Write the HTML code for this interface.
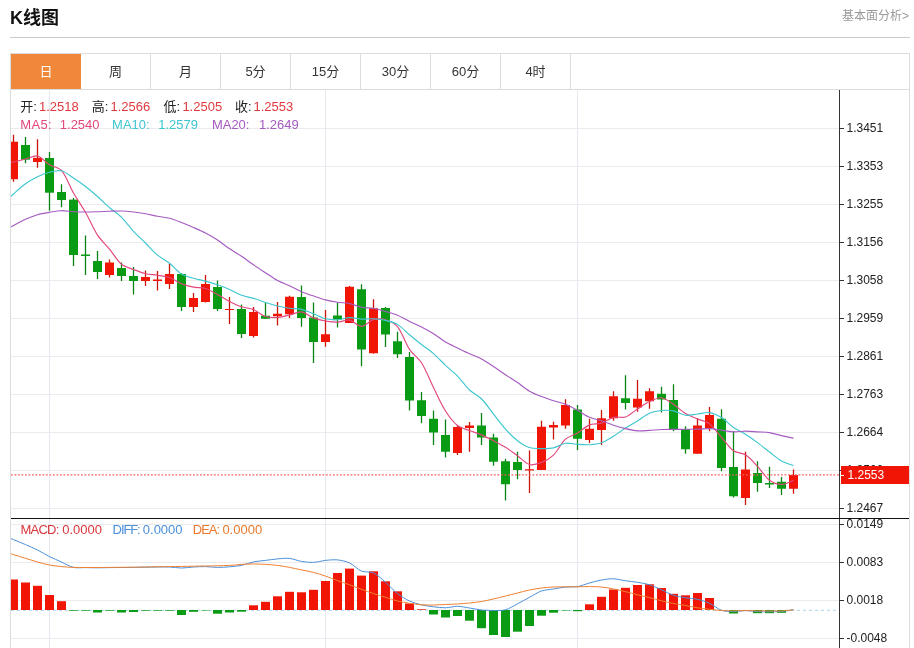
<!DOCTYPE html>
<html lang="zh-CN"><head><meta charset="utf-8"><title>K线图</title>
<style>
html,body{margin:0;padding:0;background:#fff}
body{width:914px;height:648px;position:relative;overflow:hidden;font-family:"Liberation Sans","Noto Sans CJK SC",sans-serif;color:#222}
.t{position:absolute;white-space:nowrap;line-height:1}
#title{left:10px;top:8.5px;font-size:18px;font-weight:bold;color:#111}
#more{right:5px;top:10px;font-size:12px;color:#999}
#hr{position:absolute;left:10px;top:37px;width:900px;height:1px;background:#ccc}
#tabs{position:absolute;left:10px;top:53px;width:898px;height:35px;border:1px solid #dcdcdc;box-sizing:content-box}
#tabs div{position:absolute;top:0;height:35px;width:70px;box-sizing:border-box;border-right:1px solid #dcdcdc;text-align:center;line-height:35px;font-size:13px;color:#333}
#tabs div.on{background:#f0883c;color:#fff;border-right:none}
.i{font-size:13px}
.k{color:#222}.r{color:#e0393e}.m5{color:#e2477d}.m10{color:#3dc6cf}.m20{color:#a55bc0}
.md{color:#d9363b}.df{color:#4a90d9}.de{color:#e8792b}
</style></head><body>
<div id="title" class="t">K线图</div>
<div id="more" class="t">基本面分析&gt;</div>
<div id="hr"></div>
<div id="tabs">
<div class="on" style="left:0">日</div><div style="left:70px">周</div><div style="left:140px">月</div><div style="left:210px">5分</div><div style="left:280px">15分</div><div style="left:350px">30分</div><div style="left:420px">60分</div><div style="left:490px">4时</div>
</div>
<svg width="914" height="648" viewBox="0 0 914 648" style="position:absolute;left:0;top:0">
<defs><clipPath id="cp"><rect x="11" y="90" width="828.5" height="558"/></clipPath></defs>
<g stroke="#ebebed" stroke-width="1" shape-rendering="crispEdges">
<line x1="11" x2="839" y1="128.5" y2="128.5"/>
<line x1="11" x2="839" y1="166.5" y2="166.5"/>
<line x1="11" x2="839" y1="204.5" y2="204.5"/>
<line x1="11" x2="839" y1="242.5" y2="242.5"/>
<line x1="11" x2="839" y1="280.5" y2="280.5"/>
<line x1="11" x2="839" y1="318.5" y2="318.5"/>
<line x1="11" x2="839" y1="356.5" y2="356.5"/>
<line x1="11" x2="839" y1="394.5" y2="394.5"/>
<line x1="11" x2="839" y1="432.5" y2="432.5"/>
<line x1="11" x2="839" y1="470.5" y2="470.5"/>
<line x1="11" x2="839" y1="508.5" y2="508.5"/>
<line x1="11" x2="839" y1="524.5" y2="524.5"/>
<line x1="11" x2="839" y1="562.5" y2="562.5"/>
<line x1="11" x2="839" y1="600.5" y2="600.5"/>
<line x1="11" x2="839" y1="638.5" y2="638.5"/>
</g>
<g stroke="#e6e9f0" stroke-width="1" shape-rendering="crispEdges">
<line x1="49.5" x2="49.5" y1="90" y2="648"/>
<line x1="325.5" x2="325.5" y1="90" y2="648"/>
<line x1="577.5" x2="577.5" y1="90" y2="648"/>
</g>
<g stroke="#dcdcdc" stroke-width="1" shape-rendering="crispEdges" fill="none">
<line x1="10.5" x2="10.5" y1="54" y2="648"/><line x1="909.5" x2="909.5" y1="54" y2="648"/>
</g>
<line x1="11" x2="836" y1="610.3" y2="610.3" stroke="#b8dcea" stroke-width="1.2" stroke-dasharray="3 3"/>
<g clip-path="url(#cp)">
<line x1="13.5" x2="13.5" y1="134.70" y2="181.70" stroke="#c8140a" stroke-width="1.3"/>
<rect x="9.0" y="141.70" width="9" height="37.50" fill="#f01505"/>
<line x1="25.5" x2="25.5" y1="137.00" y2="163.30" stroke="#0a8414" stroke-width="1.3"/>
<rect x="21.0" y="145.00" width="9" height="14.70" fill="#0a9b14"/>
<line x1="37.5" x2="37.5" y1="139.20" y2="167.80" stroke="#c8140a" stroke-width="1.3"/>
<rect x="33.0" y="157.80" width="9" height="4.20" fill="#f01505"/>
<line x1="49.5" x2="49.5" y1="152.00" y2="210.70" stroke="#0a8414" stroke-width="1.3"/>
<rect x="45.0" y="158.00" width="9" height="34.70" fill="#0a9b14"/>
<line x1="61.5" x2="61.5" y1="184.30" y2="207.30" stroke="#0a8414" stroke-width="1.3"/>
<rect x="57.0" y="192.00" width="9" height="8.00" fill="#0a9b14"/>
<line x1="73.5" x2="73.5" y1="198.00" y2="266.00" stroke="#0a8414" stroke-width="1.3"/>
<rect x="69.0" y="199.60" width="9" height="55.40" fill="#0a9b14"/>
<line x1="85.5" x2="85.5" y1="235.50" y2="275.00" stroke="#0a8414" stroke-width="1.3"/>
<rect x="81.0" y="254.50" width="9" height="1.50" fill="#0a9b14"/>
<line x1="97.5" x2="97.5" y1="251.00" y2="279.00" stroke="#0a8414" stroke-width="1.3"/>
<rect x="93.0" y="261.00" width="9" height="11.00" fill="#0a9b14"/>
<line x1="109.5" x2="109.5" y1="259.50" y2="277.50" stroke="#c8140a" stroke-width="1.3"/>
<rect x="105.0" y="262.50" width="9" height="12.50" fill="#f01505"/>
<line x1="121.5" x2="121.5" y1="262.50" y2="281.00" stroke="#0a8414" stroke-width="1.3"/>
<rect x="117.0" y="268.00" width="9" height="8.00" fill="#0a9b14"/>
<line x1="133.5" x2="133.5" y1="267.00" y2="294.50" stroke="#0a8414" stroke-width="1.3"/>
<rect x="129.0" y="276.00" width="9" height="5.00" fill="#0a9b14"/>
<line x1="145.5" x2="145.5" y1="270.50" y2="286.00" stroke="#c8140a" stroke-width="1.3"/>
<rect x="141.0" y="277.00" width="9" height="4.00" fill="#f01505"/>
<line x1="157.5" x2="157.5" y1="271.00" y2="290.50" stroke="#c8140a" stroke-width="1.3"/>
<rect x="153.0" y="279.50" width="9" height="1.50" fill="#f01505"/>
<line x1="169.5" x2="169.5" y1="264.00" y2="289.00" stroke="#c8140a" stroke-width="1.3"/>
<rect x="165.0" y="274.00" width="9" height="10.00" fill="#f01505"/>
<line x1="181.5" x2="181.5" y1="273.00" y2="311.00" stroke="#0a8414" stroke-width="1.3"/>
<rect x="177.0" y="274.00" width="9" height="33.00" fill="#0a9b14"/>
<line x1="193.5" x2="193.5" y1="293.00" y2="312.00" stroke="#c8140a" stroke-width="1.3"/>
<rect x="189.0" y="298.00" width="9" height="9.00" fill="#f01505"/>
<line x1="205.5" x2="205.5" y1="275.00" y2="302.50" stroke="#c8140a" stroke-width="1.3"/>
<rect x="201.0" y="284.00" width="9" height="18.00" fill="#f01505"/>
<line x1="217.5" x2="217.5" y1="280.50" y2="311.00" stroke="#0a8414" stroke-width="1.3"/>
<rect x="213.0" y="287.00" width="9" height="22.00" fill="#0a9b14"/>
<line x1="229.5" x2="229.5" y1="297.00" y2="324.00" stroke="#c8140a" stroke-width="1.3"/>
<rect x="225.0" y="309.00" width="9" height="1.00" fill="#f01505"/>
<line x1="241.5" x2="241.5" y1="304.50" y2="338.00" stroke="#0a8414" stroke-width="1.3"/>
<rect x="237.0" y="309.00" width="9" height="25.00" fill="#0a9b14"/>
<line x1="253.5" x2="253.5" y1="307.00" y2="337.50" stroke="#c8140a" stroke-width="1.3"/>
<rect x="249.0" y="312.00" width="9" height="24.00" fill="#f01505"/>
<line x1="265.5" x2="265.5" y1="302.50" y2="319.00" stroke="#0a8414" stroke-width="1.3"/>
<rect x="261.0" y="315.75" width="9" height="3.00" fill="#0a9b14"/>
<line x1="277.5" x2="277.5" y1="302.00" y2="325.50" stroke="#c8140a" stroke-width="1.3"/>
<rect x="273.0" y="313.75" width="9" height="2.50" fill="#f01505"/>
<line x1="289.5" x2="289.5" y1="295.75" y2="318.00" stroke="#c8140a" stroke-width="1.3"/>
<rect x="285.0" y="296.75" width="9" height="17.50" fill="#f01505"/>
<line x1="301.5" x2="301.5" y1="285.50" y2="326.75" stroke="#0a8414" stroke-width="1.3"/>
<rect x="297.0" y="297.00" width="9" height="21.00" fill="#0a9b14"/>
<line x1="313.5" x2="313.5" y1="302.50" y2="363.00" stroke="#0a8414" stroke-width="1.3"/>
<rect x="309.0" y="317.50" width="9" height="24.50" fill="#0a9b14"/>
<line x1="325.5" x2="325.5" y1="310.00" y2="346.75" stroke="#c8140a" stroke-width="1.3"/>
<rect x="321.0" y="334.25" width="9" height="7.75" fill="#f01505"/>
<line x1="337.5" x2="337.5" y1="302.50" y2="327.50" stroke="#0a8414" stroke-width="1.3"/>
<rect x="333.0" y="315.50" width="9" height="4.00" fill="#0a9b14"/>
<line x1="349.5" x2="349.5" y1="286.00" y2="323.00" stroke="#c8140a" stroke-width="1.3"/>
<rect x="345.0" y="286.75" width="9" height="36.25" fill="#f01505"/>
<line x1="361.5" x2="361.5" y1="284.25" y2="366.25" stroke="#0a8414" stroke-width="1.3"/>
<rect x="357.0" y="289.25" width="9" height="60.25" fill="#0a9b14"/>
<line x1="373.5" x2="373.5" y1="299.25" y2="353.75" stroke="#c8140a" stroke-width="1.3"/>
<rect x="369.0" y="308.25" width="9" height="45.00" fill="#f01505"/>
<line x1="385.5" x2="385.5" y1="307.00" y2="347.00" stroke="#0a8414" stroke-width="1.3"/>
<rect x="381.0" y="308.00" width="9" height="26.50" fill="#0a9b14"/>
<line x1="397.5" x2="397.5" y1="331.75" y2="358.00" stroke="#0a8414" stroke-width="1.3"/>
<rect x="393.0" y="341.25" width="9" height="13.00" fill="#0a9b14"/>
<line x1="409.5" x2="409.5" y1="352.00" y2="410.50" stroke="#0a8414" stroke-width="1.3"/>
<rect x="405.0" y="357.00" width="9" height="43.50" fill="#0a9b14"/>
<line x1="421.5" x2="421.5" y1="392.00" y2="423.25" stroke="#0a8414" stroke-width="1.3"/>
<rect x="417.0" y="400.25" width="9" height="15.75" fill="#0a9b14"/>
<line x1="433.5" x2="433.5" y1="410.50" y2="445.00" stroke="#0a8414" stroke-width="1.3"/>
<rect x="429.0" y="418.75" width="9" height="13.75" fill="#0a9b14"/>
<line x1="445.5" x2="445.5" y1="419.50" y2="457.50" stroke="#0a8414" stroke-width="1.3"/>
<rect x="441.0" y="435.00" width="9" height="16.75" fill="#0a9b14"/>
<line x1="457.5" x2="457.5" y1="425.00" y2="455.00" stroke="#c8140a" stroke-width="1.3"/>
<rect x="453.0" y="427.00" width="9" height="26.00" fill="#f01505"/>
<line x1="469.5" x2="469.5" y1="422.00" y2="451.75" stroke="#c8140a" stroke-width="1.3"/>
<rect x="465.0" y="425.50" width="9" height="2.50" fill="#f01505"/>
<line x1="481.5" x2="481.5" y1="413.00" y2="445.00" stroke="#0a8414" stroke-width="1.3"/>
<rect x="477.0" y="425.50" width="9" height="12.00" fill="#0a9b14"/>
<line x1="493.5" x2="493.5" y1="433.75" y2="465.75" stroke="#0a8414" stroke-width="1.3"/>
<rect x="489.0" y="437.50" width="9" height="24.25" fill="#0a9b14"/>
<line x1="505.5" x2="505.5" y1="458.75" y2="500.50" stroke="#0a8414" stroke-width="1.3"/>
<rect x="501.0" y="461.25" width="9" height="23.00" fill="#0a9b14"/>
<line x1="517.5" x2="517.5" y1="451.75" y2="479.25" stroke="#0a8414" stroke-width="1.3"/>
<rect x="513.0" y="462.00" width="9" height="8.00" fill="#0a9b14"/>
<line x1="529.5" x2="529.5" y1="450.50" y2="493.00" stroke="#c8140a" stroke-width="1.3"/>
<rect x="525.0" y="469.25" width="9" height="1.25" fill="#f01505"/>
<line x1="541.5" x2="541.5" y1="420.75" y2="470.00" stroke="#c8140a" stroke-width="1.3"/>
<rect x="537.0" y="426.75" width="9" height="43.25" fill="#f01505"/>
<line x1="553.5" x2="553.5" y1="421.75" y2="439.50" stroke="#c8140a" stroke-width="1.3"/>
<rect x="549.0" y="425.00" width="9" height="2.50" fill="#f01505"/>
<line x1="565.5" x2="565.5" y1="399.25" y2="428.75" stroke="#c8140a" stroke-width="1.3"/>
<rect x="561.0" y="405.00" width="9" height="20.50" fill="#f01505"/>
<line x1="577.5" x2="577.5" y1="405.00" y2="450.00" stroke="#0a8414" stroke-width="1.3"/>
<rect x="573.0" y="409.50" width="9" height="29.25" fill="#0a9b14"/>
<line x1="589.5" x2="589.5" y1="418.75" y2="443.00" stroke="#c8140a" stroke-width="1.3"/>
<rect x="585.0" y="428.75" width="9" height="11.25" fill="#f01505"/>
<line x1="601.5" x2="601.5" y1="410.00" y2="445.00" stroke="#c8140a" stroke-width="1.3"/>
<rect x="597.0" y="418.25" width="9" height="11.75" fill="#f01505"/>
<line x1="613.5" x2="613.5" y1="391.25" y2="420.75" stroke="#c8140a" stroke-width="1.3"/>
<rect x="609.0" y="396.25" width="9" height="22.00" fill="#f01505"/>
<line x1="625.5" x2="625.5" y1="375.25" y2="409.50" stroke="#0a8414" stroke-width="1.3"/>
<rect x="621.0" y="398.25" width="9" height="4.75" fill="#0a9b14"/>
<line x1="637.5" x2="637.5" y1="380.00" y2="411.75" stroke="#c8140a" stroke-width="1.3"/>
<rect x="633.0" y="398.75" width="9" height="8.75" fill="#f01505"/>
<line x1="649.5" x2="649.5" y1="388.25" y2="408.75" stroke="#c8140a" stroke-width="1.3"/>
<rect x="645.0" y="391.25" width="9" height="10.00" fill="#f01505"/>
<line x1="661.5" x2="661.5" y1="386.75" y2="412.50" stroke="#0a8414" stroke-width="1.3"/>
<rect x="657.0" y="393.75" width="9" height="5.75" fill="#0a9b14"/>
<line x1="673.5" x2="673.5" y1="384.25" y2="431.25" stroke="#0a8414" stroke-width="1.3"/>
<rect x="669.0" y="400.00" width="9" height="29.25" fill="#0a9b14"/>
<line x1="685.5" x2="685.5" y1="426.25" y2="453.75" stroke="#0a8414" stroke-width="1.3"/>
<rect x="681.0" y="429.25" width="9" height="20.00" fill="#0a9b14"/>
<line x1="697.5" x2="697.5" y1="418.25" y2="453.75" stroke="#c8140a" stroke-width="1.3"/>
<rect x="693.0" y="425.50" width="9" height="28.25" fill="#f01505"/>
<line x1="709.5" x2="709.5" y1="407.00" y2="431.25" stroke="#c8140a" stroke-width="1.3"/>
<rect x="705.0" y="415.00" width="9" height="13.25" fill="#f01505"/>
<line x1="721.5" x2="721.5" y1="409.25" y2="471.25" stroke="#0a8414" stroke-width="1.3"/>
<rect x="717.0" y="418.75" width="9" height="49.25" fill="#0a9b14"/>
<line x1="733.5" x2="733.5" y1="431.25" y2="497.50" stroke="#0a8414" stroke-width="1.3"/>
<rect x="729.0" y="467.00" width="9" height="29.25" fill="#0a9b14"/>
<line x1="745.5" x2="745.5" y1="451.75" y2="505.00" stroke="#c8140a" stroke-width="1.3"/>
<rect x="741.0" y="469.50" width="9" height="28.50" fill="#f01505"/>
<line x1="757.5" x2="757.5" y1="461.25" y2="491.75" stroke="#0a8414" stroke-width="1.3"/>
<rect x="753.0" y="473.00" width="9" height="10.00" fill="#0a9b14"/>
<line x1="769.5" x2="769.5" y1="466.75" y2="488.00" stroke="#0a8414" stroke-width="1.3"/>
<rect x="765.0" y="483.00" width="9" height="1.50" fill="#0a9b14"/>
<line x1="781.5" x2="781.5" y1="477.00" y2="495.00" stroke="#0a8414" stroke-width="1.3"/>
<rect x="777.0" y="481.75" width="9" height="7.00" fill="#0a9b14"/>
<line x1="793.5" x2="793.5" y1="469.50" y2="493.75" stroke="#c8140a" stroke-width="1.3"/>
<rect x="789.0" y="475.00" width="9" height="13.75" fill="#f01505"/>
<path d="M1.50 163.00 C1.50 163.00 9.95 162.59 13.50 162.00 C17.15 161.39 21.90 159.90 25.50 159.00 C29.10 158.10 34.22 155.22 37.50 156.00 C41.42 156.93 45.70 162.42 49.50 164.70 C52.90 166.74 59.04 167.48 61.50 170.38 C66.24 175.98 69.68 186.37 73.50 193.04 C76.88 198.94 82.13 206.39 85.50 212.30 C89.33 219.02 93.30 228.70 97.50 235.14 C100.50 239.74 105.99 244.84 109.50 249.10 C113.19 253.58 117.20 260.65 121.50 264.30 C124.40 266.77 129.85 268.07 133.50 269.50 C137.05 270.89 141.81 272.82 145.50 273.70 C149.01 274.53 153.92 274.63 157.50 275.20 C161.12 275.77 166.08 276.29 169.50 277.50 C173.28 278.84 177.76 282.20 181.50 283.70 C184.96 285.08 189.84 286.37 193.50 287.10 C197.04 287.81 202.08 287.46 205.50 288.50 C209.28 289.65 213.97 292.50 217.50 294.40 C221.17 296.37 225.80 299.49 229.50 301.40 C233.00 303.21 237.78 305.53 241.50 306.80 C244.98 307.99 250.11 308.22 253.50 309.60 C257.31 311.15 261.65 315.28 265.50 316.55 C268.85 317.65 273.93 317.72 277.50 317.50 C281.13 317.27 285.93 315.89 289.50 315.05 C293.13 314.20 298.04 311.45 301.50 311.85 C305.24 312.29 309.76 316.43 313.50 317.85 C316.96 319.16 321.85 320.30 325.50 320.95 C329.05 321.58 333.92 322.23 337.50 322.10 C341.12 321.97 346.09 319.49 349.50 320.10 C353.29 320.78 357.93 326.47 361.50 326.40 C365.13 326.33 369.65 320.72 373.50 319.65 C376.85 318.71 382.16 318.73 385.50 319.70 C389.36 320.83 394.98 323.53 397.50 326.65 C402.18 332.44 405.26 343.02 409.50 349.40 C412.46 353.84 418.67 358.19 421.50 362.70 C425.87 369.64 429.82 380.14 433.50 387.55 C437.02 394.63 441.30 404.36 445.50 411.00 C448.50 415.76 453.24 422.08 457.50 425.55 C460.44 427.94 465.86 429.14 469.50 430.55 C473.06 431.93 477.98 433.36 481.50 434.85 C485.18 436.41 489.94 438.87 493.50 440.70 C497.14 442.57 502.04 445.02 505.50 447.20 C509.24 449.55 513.91 453.21 517.50 455.80 C521.11 458.41 525.55 463.46 529.50 464.55 C532.75 465.44 538.16 463.72 541.50 462.40 C545.36 460.87 550.52 457.93 553.50 455.05 C557.72 450.97 561.22 443.15 565.50 439.20 C568.42 436.52 574.02 435.03 577.50 432.95 C581.22 430.72 585.58 426.45 589.50 424.85 C592.78 423.51 598.07 424.22 601.50 423.15 C605.27 421.98 609.72 418.37 613.50 417.40 C616.92 416.52 622.23 418.14 625.50 417.00 C629.43 415.62 633.87 411.35 637.50 409.00 C641.07 406.70 645.69 403.29 649.50 401.50 C652.89 399.91 658.05 397.34 661.50 397.75 C665.25 398.20 670.08 402.09 673.50 404.35 C677.28 406.85 681.64 411.25 685.50 413.60 C688.84 415.63 693.87 417.42 697.50 418.95 C701.07 420.45 706.51 421.40 709.50 423.70 C713.71 426.94 717.88 433.31 721.50 437.40 C725.08 441.44 729.27 447.73 733.50 450.80 C736.47 452.96 742.39 452.83 745.50 454.85 C749.59 457.50 754.08 462.73 757.50 466.35 C761.28 470.35 765.24 477.05 769.50 480.25 C772.44 482.46 777.90 484.41 781.50 484.40 C785.10 484.38 793.50 480.15 793.50 480.15" fill="none" stroke="#e2477d" stroke-width="1.15"/>
<path d="M1.50 205.00 C1.50 205.00 9.85 197.24 13.50 194.00 C17.05 190.85 21.67 186.46 25.50 183.70 C28.87 181.27 33.75 178.49 37.50 176.70 C40.95 175.04 45.79 173.11 49.50 172.20 C52.99 171.34 58.16 169.99 61.50 170.80 C65.36 171.73 69.99 175.70 73.50 178.00 C77.19 180.41 82.01 183.81 85.50 186.50 C89.21 189.36 93.98 193.41 97.50 196.50 C101.18 199.74 105.80 204.39 109.50 207.60 C113.00 210.64 118.21 214.10 121.50 217.34 C125.41 221.20 129.74 227.25 133.50 231.27 C136.94 234.94 141.93 239.45 145.50 243.00 C149.13 246.62 153.60 251.87 157.50 255.17 C160.80 257.96 166.09 260.62 169.50 263.30 C173.29 266.27 177.48 271.49 181.50 274.00 C184.68 275.99 189.84 277.22 193.50 278.30 C197.04 279.35 201.93 280.13 205.50 281.10 C209.13 282.08 213.94 283.56 217.50 284.80 C221.14 286.07 225.96 287.91 229.50 289.45 C233.16 291.04 237.77 293.87 241.50 295.25 C244.97 296.54 249.94 297.27 253.50 298.35 C257.14 299.45 261.87 301.37 265.50 302.52 C269.07 303.65 273.86 305.09 277.50 305.95 C281.06 306.80 285.88 307.72 289.50 308.23 C293.08 308.73 298.01 308.52 301.50 309.32 C305.21 310.17 309.93 312.32 313.50 313.73 C317.13 315.15 321.76 317.80 325.50 318.75 C328.96 319.63 333.92 319.98 337.50 319.80 C341.12 319.62 345.88 317.68 349.50 317.57 C353.08 317.47 357.89 318.95 361.50 319.12 C365.09 319.30 369.91 318.57 373.50 318.75 C377.11 318.93 381.98 319.50 385.50 320.32 C389.18 321.19 394.30 322.45 397.50 324.38 C401.50 326.78 405.86 331.69 409.50 334.75 C413.06 337.74 417.85 341.68 421.50 344.55 C425.05 347.33 430.10 350.65 433.50 353.60 C437.30 356.89 441.83 361.90 445.50 365.35 C449.03 368.65 454.13 372.65 457.50 376.10 C461.33 380.03 465.52 386.22 469.50 389.98 C472.72 393.02 478.38 395.64 481.50 398.77 C485.58 402.88 489.87 409.54 493.50 414.12 C497.07 418.64 501.65 424.84 505.50 429.10 C508.85 432.80 513.56 437.65 517.50 440.68 C520.76 443.18 525.65 446.28 529.50 447.55 C532.85 448.66 537.90 448.58 541.50 448.62 C545.10 448.67 550.02 448.66 553.50 447.88 C557.22 447.03 561.78 443.74 565.50 443.20 C568.98 442.69 573.89 444.15 577.50 444.38 C581.09 444.60 585.92 444.94 589.50 444.70 C593.12 444.46 598.11 443.97 601.50 442.77 C605.31 441.43 610.00 438.36 613.50 436.23 C617.20 433.96 621.83 430.43 625.50 428.10 C629.03 425.86 633.95 423.19 637.50 420.98 C641.15 418.71 645.63 414.87 649.50 413.18 C652.83 411.72 657.86 410.80 661.50 410.45 C665.06 410.11 670.01 410.17 673.50 410.88 C677.21 411.63 681.80 414.82 685.50 415.30 C689.00 415.75 693.90 414.38 697.50 413.98 C701.10 413.57 706.03 412.08 709.50 412.60 C713.23 413.16 718.23 415.54 721.50 417.57 C725.43 420.03 729.67 424.92 733.50 427.57 C736.87 429.91 742.02 432.04 745.50 434.23 C749.22 436.56 753.96 440.04 757.50 442.65 C761.16 445.36 765.87 449.22 769.50 451.98 C773.07 454.69 777.63 458.72 781.50 460.90 C784.83 462.77 793.50 465.48 793.50 465.48" fill="none" stroke="#3dc6cf" stroke-width="1.15"/>
<path d="M1.50 232.00 C1.50 232.00 9.89 227.43 13.50 225.50 C17.09 223.59 21.80 220.87 25.50 219.20 C29.00 217.63 33.82 215.76 37.50 214.70 C41.02 213.69 45.88 212.90 49.50 212.30 C53.08 211.70 57.89 210.79 61.50 210.70 C65.09 210.61 69.89 211.50 73.50 211.70 C77.09 211.89 81.90 212.00 85.50 212.00 C89.10 212.00 93.90 211.82 97.50 211.70 C101.10 211.58 105.90 211.31 109.50 211.20 C113.10 211.10 117.91 210.88 121.50 211.00 C125.11 211.12 129.91 211.59 133.50 212.00 C137.11 212.41 141.92 213.12 145.50 213.75 C149.12 214.39 153.89 215.57 157.50 216.25 C161.09 216.92 165.98 217.33 169.50 218.25 C173.18 219.21 177.94 221.13 181.50 222.50 C185.14 223.90 189.93 225.94 193.50 227.50 C197.13 229.09 201.99 231.17 205.50 233.00 C209.19 234.92 214.02 237.72 217.50 240.00 C221.22 242.44 225.82 246.25 229.50 248.75 C233.02 251.14 237.97 253.93 241.50 256.29 C245.17 258.75 249.86 262.31 253.50 264.81 C257.06 267.25 261.89 270.39 265.50 272.76 C269.09 275.12 273.74 278.52 277.50 280.56 C280.94 282.42 285.94 284.12 289.50 285.76 C293.14 287.45 297.82 290.09 301.50 291.66 C305.02 293.16 309.88 294.77 313.50 296.01 C317.08 297.24 321.84 298.97 325.50 299.93 C329.04 300.85 333.87 301.76 337.50 302.30 C341.07 302.83 345.97 302.79 349.50 303.51 C353.17 304.26 357.83 306.42 361.50 307.19 C365.03 307.93 369.94 307.92 373.50 308.55 C377.14 309.19 381.93 310.44 385.50 311.43 C389.13 312.43 394.04 313.71 397.50 315.16 C401.24 316.73 405.85 319.70 409.50 321.49 C413.05 323.23 417.98 325.15 421.50 326.94 C425.18 328.80 430.01 331.47 433.50 333.66 C437.21 336.00 441.74 339.81 445.50 342.05 C448.94 344.10 453.90 346.19 457.50 347.95 C461.10 349.71 465.86 352.11 469.50 353.77 C473.06 355.41 478.04 357.13 481.50 358.95 C485.24 360.92 489.95 364.11 493.50 366.44 C497.15 368.84 501.87 372.28 505.50 374.71 C509.07 377.10 513.96 380.10 517.50 382.52 C521.16 385.03 525.69 388.92 529.50 391.15 C532.89 393.14 537.83 395.12 541.50 396.59 C545.03 398.00 549.87 399.58 553.50 400.74 C557.07 401.88 562.02 402.90 565.50 404.27 C569.22 405.75 573.97 408.32 577.50 410.24 C581.17 412.24 585.70 415.67 589.50 417.34 C592.90 418.83 597.94 419.61 601.50 420.77 C605.14 421.96 609.86 423.99 613.50 425.18 C617.06 426.33 621.86 427.74 625.50 428.60 C629.06 429.44 633.87 430.56 637.50 430.82 C641.07 431.09 645.90 430.56 649.50 430.36 C653.10 430.17 657.90 429.69 661.50 429.54 C665.10 429.39 669.90 429.42 673.50 429.38 C677.10 429.33 681.90 429.28 685.50 429.25 C689.10 429.22 693.90 429.26 697.50 429.18 C701.10 429.08 705.91 428.50 709.50 428.65 C713.11 428.80 717.90 429.69 721.50 430.18 C725.10 430.66 729.88 431.75 733.50 431.90 C737.08 432.05 741.90 431.18 745.50 431.16 C749.10 431.15 753.90 431.60 757.50 431.81 C761.10 432.02 765.95 432.00 769.50 432.57 C773.15 433.16 777.88 434.83 781.50 435.68 C785.08 436.51 793.50 438.18 793.50 438.18" fill="none" stroke="#a55bc0" stroke-width="1.15"/>
<rect x="9.0" y="579.50" width="9" height="30.50" fill="#f01505"/>
<rect x="21.0" y="582.50" width="9" height="27.50" fill="#f01505"/>
<rect x="33.0" y="585.80" width="9" height="24.20" fill="#f01505"/>
<rect x="45.0" y="595.00" width="9" height="15.00" fill="#f01505"/>
<rect x="57.0" y="601.20" width="9" height="8.80" fill="#f01505"/>
<rect x="69.0" y="610.00" width="9" height="0.70" fill="#0a9b14"/>
<rect x="81.0" y="610.00" width="9" height="0.70" fill="#0a9b14"/>
<rect x="93.0" y="610.00" width="9" height="2.50" fill="#0a9b14"/>
<rect x="105.0" y="610.00" width="9" height="0.70" fill="#0a9b14"/>
<rect x="117.0" y="610.00" width="9" height="2.50" fill="#0a9b14"/>
<rect x="129.0" y="610.00" width="9" height="2.00" fill="#0a9b14"/>
<rect x="141.0" y="610.00" width="9" height="0.70" fill="#0a9b14"/>
<rect x="153.0" y="610.00" width="9" height="0.70" fill="#0a9b14"/>
<rect x="165.0" y="610.00" width="9" height="0.70" fill="#0a9b14"/>
<rect x="177.0" y="610.00" width="9" height="5.00" fill="#0a9b14"/>
<rect x="189.0" y="610.00" width="9" height="1.80" fill="#0a9b14"/>
<rect x="201.0" y="610.00" width="9" height="0.50" fill="#0a9b14"/>
<rect x="213.0" y="610.00" width="9" height="3.70" fill="#0a9b14"/>
<rect x="225.0" y="610.00" width="9" height="2.50" fill="#0a9b14"/>
<rect x="237.0" y="610.00" width="9" height="1.70" fill="#0a9b14"/>
<rect x="249.0" y="605.30" width="9" height="4.70" fill="#f01505"/>
<rect x="261.0" y="601.80" width="9" height="8.20" fill="#f01505"/>
<rect x="273.0" y="596.30" width="9" height="13.70" fill="#f01505"/>
<rect x="285.0" y="591.80" width="9" height="18.20" fill="#f01505"/>
<rect x="297.0" y="592.30" width="9" height="17.70" fill="#f01505"/>
<rect x="309.0" y="589.80" width="9" height="20.20" fill="#f01505"/>
<rect x="321.0" y="581.00" width="9" height="29.00" fill="#f01505"/>
<rect x="333.0" y="573.00" width="9" height="37.00" fill="#f01505"/>
<rect x="345.0" y="568.60" width="9" height="41.40" fill="#f01505"/>
<rect x="357.0" y="575.60" width="9" height="34.40" fill="#f01505"/>
<rect x="369.0" y="571.30" width="9" height="38.70" fill="#f01505"/>
<rect x="381.0" y="581.30" width="9" height="28.70" fill="#f01505"/>
<rect x="393.0" y="591.30" width="9" height="18.70" fill="#f01505"/>
<rect x="405.0" y="603.50" width="9" height="6.50" fill="#f01505"/>
<rect x="417.0" y="609.30" width="9" height="0.70" fill="#f01505"/>
<rect x="429.0" y="610.00" width="9" height="4.50" fill="#0a9b14"/>
<rect x="441.0" y="610.00" width="9" height="7.50" fill="#0a9b14"/>
<rect x="453.0" y="610.00" width="9" height="6.00" fill="#0a9b14"/>
<rect x="465.0" y="610.00" width="9" height="10.70" fill="#0a9b14"/>
<rect x="477.0" y="610.00" width="9" height="18.20" fill="#0a9b14"/>
<rect x="489.0" y="610.00" width="9" height="25.00" fill="#0a9b14"/>
<rect x="501.0" y="610.00" width="9" height="27.00" fill="#0a9b14"/>
<rect x="513.0" y="610.00" width="9" height="21.70" fill="#0a9b14"/>
<rect x="525.0" y="610.00" width="9" height="16.00" fill="#0a9b14"/>
<rect x="537.0" y="610.00" width="9" height="5.70" fill="#0a9b14"/>
<rect x="549.0" y="610.00" width="9" height="2.70" fill="#0a9b14"/>
<rect x="561.0" y="610.00" width="9" height="0.50" fill="#0a9b14"/>
<rect x="573.0" y="610.00" width="9" height="1.20" fill="#0a9b14"/>
<rect x="585.0" y="604.30" width="9" height="5.70" fill="#f01505"/>
<rect x="597.0" y="596.80" width="9" height="13.20" fill="#f01505"/>
<rect x="609.0" y="589.50" width="9" height="20.50" fill="#f01505"/>
<rect x="621.0" y="587.80" width="9" height="22.20" fill="#f01505"/>
<rect x="633.0" y="585.00" width="9" height="25.00" fill="#f01505"/>
<rect x="645.0" y="584.30" width="9" height="25.70" fill="#f01505"/>
<rect x="657.0" y="588.00" width="9" height="22.00" fill="#f01505"/>
<rect x="669.0" y="593.80" width="9" height="16.20" fill="#f01505"/>
<rect x="681.0" y="595.30" width="9" height="14.70" fill="#f01505"/>
<rect x="693.0" y="593.00" width="9" height="17.00" fill="#f01505"/>
<rect x="705.0" y="598.00" width="9" height="12.00" fill="#f01505"/>
<rect x="729.0" y="610.00" width="9" height="3.50" fill="#0a9b14"/>
<rect x="741.0" y="610.00" width="9" height="0.70" fill="#0a9b14"/>
<rect x="753.0" y="610.00" width="9" height="3.20" fill="#0a9b14"/>
<rect x="765.0" y="610.00" width="9" height="3.20" fill="#0a9b14"/>
<rect x="777.0" y="610.00" width="9" height="2.80" fill="#0a9b14"/>
<path d="M1.50 534.50 C1.50 534.50 9.89 538.08 13.50 539.60 C17.09 541.11 21.92 543.05 25.50 544.60 C29.12 546.17 33.97 548.24 37.50 550.00 C41.17 551.84 45.83 554.76 49.50 556.60 C53.03 558.36 57.90 560.38 61.50 562.00 C65.10 563.62 69.73 566.52 73.50 567.40 C76.93 568.20 81.90 567.54 85.50 567.60 C89.10 567.66 93.90 567.80 97.50 567.80 C101.10 567.80 105.90 567.65 109.50 567.60 C113.10 567.56 117.90 567.53 121.50 567.50 C125.10 567.47 129.90 567.44 133.50 567.40 C137.10 567.35 141.90 567.26 145.50 567.20 C149.10 567.14 153.90 567.03 157.50 567.00 C161.10 566.97 165.91 566.85 169.50 567.00 C173.11 567.15 177.90 568.00 181.50 568.00 C185.10 568.00 189.89 567.21 193.50 567.00 C197.09 566.79 201.90 566.54 205.50 566.60 C209.10 566.66 213.90 567.37 217.50 567.40 C221.10 567.43 225.91 567.10 229.50 566.80 C233.11 566.50 237.96 566.12 241.50 565.40 C245.16 564.65 249.84 562.66 253.50 561.90 C257.04 561.16 261.90 560.85 265.50 560.40 C269.10 559.95 273.89 559.20 277.50 558.90 C281.09 558.60 285.95 558.03 289.50 558.40 C293.15 558.78 297.85 560.79 301.50 561.40 C305.05 561.99 309.92 562.55 313.50 562.40 C317.12 562.25 321.88 560.78 325.50 560.40 C329.08 560.03 333.95 559.53 337.50 559.90 C341.15 560.28 346.19 561.36 349.50 562.90 C353.39 564.72 357.58 569.47 361.50 571.10 C364.78 572.47 370.31 571.41 373.50 572.90 C377.51 574.77 382.04 579.32 385.50 582.30 C389.24 585.53 393.62 590.58 397.50 593.60 C400.82 596.19 405.70 599.22 409.50 601.00 C412.90 602.58 417.84 603.92 421.50 604.80 C425.04 605.66 429.88 606.35 433.50 606.80 C437.08 607.25 441.91 607.87 445.50 607.80 C449.11 607.72 453.90 606.27 457.50 606.30 C461.10 606.33 465.91 607.45 469.50 608.00 C473.11 608.56 477.88 609.62 481.50 610.00 C485.08 610.37 489.90 610.53 493.50 610.50 C497.10 610.47 502.10 610.75 505.50 609.80 C509.30 608.74 513.93 605.66 517.50 603.80 C521.13 601.91 525.89 599.23 529.50 597.30 C533.09 595.39 537.71 592.31 541.50 591.00 C544.91 589.82 549.90 589.60 553.50 589.00 C557.10 588.40 561.88 587.36 565.50 587.00 C569.08 586.64 573.98 587.19 577.50 586.60 C581.18 585.99 585.88 584.00 589.50 583.00 C593.08 582.02 597.85 580.64 601.50 580.00 C605.05 579.38 609.92 578.68 613.50 578.80 C617.12 578.92 621.89 580.27 625.50 580.80 C629.09 581.32 633.92 581.70 637.50 582.30 C641.12 582.90 646.01 583.71 649.50 584.80 C653.21 585.96 657.93 588.24 661.50 589.80 C665.13 591.39 669.77 594.06 673.50 595.30 C676.97 596.46 681.88 597.20 685.50 597.80 C689.08 598.40 693.98 598.49 697.50 599.30 C701.18 600.14 706.07 601.73 709.50 603.30 C713.27 605.03 717.65 608.97 721.50 610.30 C724.85 611.46 729.90 611.55 733.50 611.60 C737.10 611.64 741.90 610.60 745.50 610.60 C749.10 610.60 753.89 611.42 757.50 611.60 C761.09 611.78 765.90 611.83 769.50 611.80 C773.10 611.77 777.91 611.70 781.50 611.40 C785.11 611.10 793.50 609.80 793.50 609.80" fill="none" stroke="#4a90d9" stroke-width="1"/>
<path d="M1.50 550.50 C1.50 550.50 9.88 553.42 13.50 554.60 C17.08 555.76 21.90 557.19 25.50 558.30 C29.10 559.41 33.87 560.99 37.50 562.00 C41.07 563.00 45.86 564.30 49.50 565.00 C53.06 565.68 57.89 566.24 61.50 566.60 C65.09 566.96 69.90 567.26 73.50 567.40 C77.10 567.53 81.90 567.48 85.50 567.50 C89.10 567.51 93.90 567.51 97.50 567.50 C101.10 567.48 105.90 567.43 109.50 567.40 C113.10 567.37 117.90 567.33 121.50 567.30 C125.10 567.27 129.90 567.24 133.50 567.20 C137.10 567.15 141.90 567.06 145.50 567.00 C149.10 566.94 153.90 566.86 157.50 566.80 C161.10 566.74 165.90 566.66 169.50 566.60 C173.10 566.54 177.90 566.46 181.50 566.40 C185.10 566.34 189.90 566.26 193.50 566.20 C197.10 566.14 201.90 566.06 205.50 566.00 C209.10 565.94 213.90 565.89 217.50 565.80 C221.10 565.71 225.91 565.61 229.50 565.40 C233.11 565.19 237.90 564.63 241.50 564.40 C245.10 564.18 249.90 563.90 253.50 563.90 C257.10 563.90 261.90 564.18 265.50 564.40 C269.10 564.63 273.92 564.95 277.50 565.40 C281.12 565.85 285.91 566.73 289.50 567.40 C293.11 568.08 297.90 569.15 301.50 569.90 C305.10 570.65 309.94 571.48 313.50 572.40 C317.14 573.34 321.94 574.88 325.50 576.10 C329.14 577.34 333.89 579.29 337.50 580.60 C341.09 581.90 345.91 583.50 349.50 584.80 C353.11 586.11 357.89 587.98 361.50 589.30 C365.09 590.62 369.87 592.39 373.50 593.60 C377.07 594.79 381.90 596.19 385.50 597.30 C389.10 598.41 393.85 600.09 397.50 601.00 C401.05 601.89 405.88 602.73 409.50 603.30 C413.08 603.87 417.89 604.54 421.50 604.80 C425.09 605.05 429.90 605.04 433.50 605.00 C437.10 604.95 441.90 604.65 445.50 604.50 C449.10 604.35 453.90 604.22 457.50 604.00 C461.10 603.77 465.91 603.37 469.50 603.00 C473.11 602.62 477.92 602.10 481.50 601.50 C485.12 600.90 489.92 599.82 493.50 599.00 C497.12 598.17 501.90 596.90 505.50 596.00 C509.10 595.10 513.90 593.90 517.50 593.00 C521.10 592.10 525.87 590.76 529.50 590.00 C533.07 589.26 537.88 588.45 541.50 588.00 C545.08 587.55 549.89 587.18 553.50 587.00 C557.09 586.82 561.90 586.83 565.50 586.80 C569.10 586.77 573.90 586.83 577.50 586.80 C581.10 586.77 585.90 586.57 589.50 586.60 C593.10 586.63 597.92 586.64 601.50 587.00 C605.12 587.36 609.92 588.31 613.50 589.00 C617.12 589.69 621.92 590.73 625.50 591.60 C629.12 592.47 633.89 593.90 637.50 594.80 C641.09 595.70 645.91 596.70 649.50 597.60 C653.11 598.50 657.88 599.91 661.50 600.80 C665.08 601.68 669.88 602.79 673.50 603.50 C677.08 604.20 681.91 604.86 685.50 605.50 C689.11 606.15 693.88 607.23 697.50 607.80 C701.08 608.37 705.90 608.89 709.50 609.30 C713.10 609.70 717.89 610.26 721.50 610.50 C725.09 610.74 729.90 610.90 733.50 610.90 C737.10 610.90 741.90 610.50 745.50 610.50 C749.10 610.50 753.90 610.82 757.50 610.90 C761.10 610.97 765.90 611.00 769.50 611.00 C773.10 611.00 777.91 611.08 781.50 610.90 C785.11 610.72 793.50 609.80 793.50 609.80" fill="none" stroke="#f08030" stroke-width="1"/>
</g>
<line x1="11" x2="839" y1="474.8" y2="474.8" stroke="#f3595e" stroke-width="1.3" stroke-dasharray="1.75 1.75"/>
<g stroke="#333" stroke-width="1" shape-rendering="crispEdges">
<line x1="839.5" x2="839.5" y1="90" y2="648"/>
<line x1="11" x2="909" y1="518.5" y2="518.5" stroke="#111"/>
<line x1="840" x2="844" y1="128.5" y2="128.5"/>
<line x1="840" x2="844" y1="166.5" y2="166.5"/>
<line x1="840" x2="844" y1="204.5" y2="204.5"/>
<line x1="840" x2="844" y1="242.5" y2="242.5"/>
<line x1="840" x2="844" y1="280.5" y2="280.5"/>
<line x1="840" x2="844" y1="318.5" y2="318.5"/>
<line x1="840" x2="844" y1="356.5" y2="356.5"/>
<line x1="840" x2="844" y1="394.5" y2="394.5"/>
<line x1="840" x2="844" y1="432.5" y2="432.5"/>
<line x1="840" x2="844" y1="470.5" y2="470.5"/>
<line x1="840" x2="844" y1="508.5" y2="508.5"/>
<line x1="840" x2="844" y1="524.5" y2="524.5"/>
<line x1="840" x2="844" y1="562.5" y2="562.5"/>
<line x1="840" x2="844" y1="600.5" y2="600.5"/>
<line x1="840" x2="844" y1="638.5" y2="638.5"/>
</g>
<g font-family="Liberation Sans, sans-serif" font-size="12" fill="#222">
<text x="846.5" y="132.1">1.3451</text>
<text x="846.5" y="170.1">1.3353</text>
<text x="846.5" y="208.1">1.3255</text>
<text x="846.5" y="246.1">1.3156</text>
<text x="846.5" y="284.1">1.3058</text>
<text x="846.5" y="322.1">1.2959</text>
<text x="846.5" y="360.1">1.2861</text>
<text x="846.5" y="398.1">1.2763</text>
<text x="846.5" y="436.1">1.2664</text>
<text x="846.5" y="474.1">1.2566</text>
<text x="846.5" y="512.1">1.2467</text>
<text x="846.5" y="528.1">0.0149</text>
<text x="846.5" y="566.1">0.0083</text>
<text x="846.5" y="604.1">0.0018</text>
<text x="846.5" y="642.1">-0.0048</text>
</g>
<rect x="841" y="466" width="68" height="18" fill="#f01505"/>
<line x1="841" x2="844" y1="475.5" y2="475.5" stroke="#fff" stroke-width="1" shape-rendering="crispEdges"/>
<text x="847.5" y="478.9" font-family="Liberation Sans, sans-serif" font-size="12" fill="#fff">1.2553</text>
</svg>
<span class="t i k" style="left:20.3px;top:99.5px">开:</span><span class="t i r" style="left:39px;top:99.5px">1.2518</span>
<span class="t i k" style="left:91.8px;top:99.5px">高:</span><span class="t i r" style="left:110.5px;top:99.5px">1.2566</span>
<span class="t i k" style="left:163.6px;top:99.5px">低:</span><span class="t i r" style="left:182.4px;top:99.5px">1.2505</span>
<span class="t i k" style="left:235.1px;top:99.5px">收:</span><span class="t i r" style="left:253.5px;top:99.5px">1.2553</span>
<span class="t i m5" style="left:20.3px;top:117.8px;letter-spacing:0.3px">MA5:</span><span class="t i m5" style="left:59.8px;top:117.8px">1.2540</span>
<span class="t i m10" style="left:112.1px;top:117.8px">MA10:</span><span class="t i m10" style="left:158.2px;top:117.8px">1.2579</span>
<span class="t i m20" style="left:211.9px;top:117.8px">MA20:</span><span class="t i m20" style="left:258.9px;top:117.8px">1.2649</span>
<span class="t i md" style="left:20.6px;top:522.7px;letter-spacing:-0.8px">MACD:</span><span class="t i md" style="left:62.2px;top:522.7px">0.0000</span>
<span class="t i df" style="left:112.6px;top:522.7px;letter-spacing:-1.1px">DIFF:</span><span class="t i df" style="left:142.8px;top:522.7px">0.0000</span>
<span class="t i de" style="left:192.8px;top:522.7px;letter-spacing:-1px">DEA:</span><span class="t i de" style="left:222.4px;top:522.7px">0.0000</span>
</body></html>
